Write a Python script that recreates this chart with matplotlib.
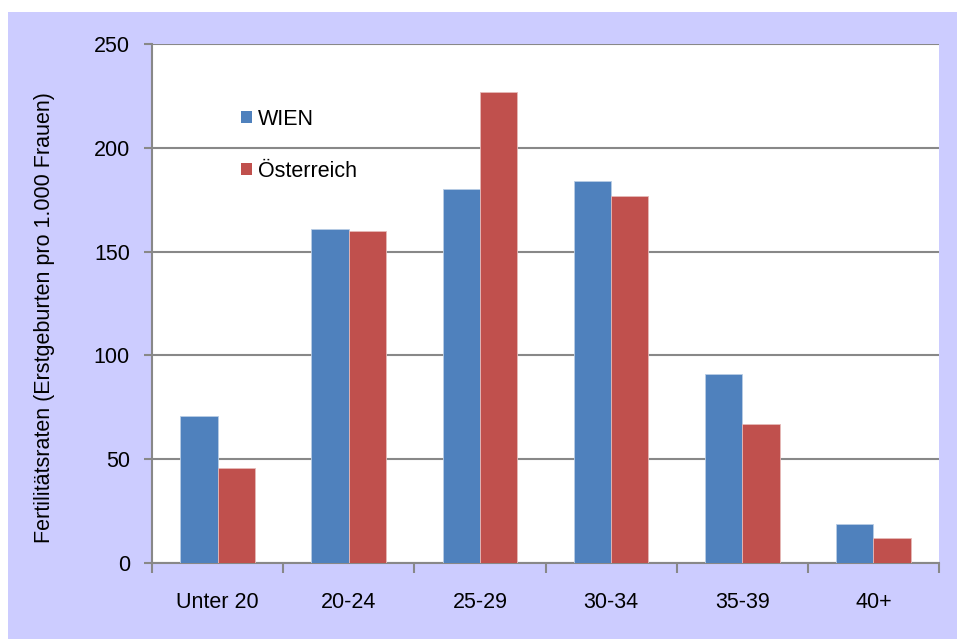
import matplotlib.pyplot as plt
from matplotlib.patches import Rectangle, Patch
import numpy as np

plt.rcParams['font.family'] = ['Liberation Sans', 'DejaVu Sans']

categories = ['Unter 20', '20-24', '25-29', '30-34', '35-39', '40+']
wien = [71, 161, 180, 184, 91, 19]
oesterreich = [46, 160, 227, 177, 67, 12]

blue = '#4f81bd'
red = '#c0504d'
grid_col = '#888888'

fig = plt.figure(figsize=(9.57, 6.39), dpi=100)
fig.patch.set_facecolor('white')
# lavender chart area frame
fig.patches.append(Rectangle((8 / 957, 0), 1 - 8 / 957, 1 - 12 / 639,
                             transform=fig.transFigure, facecolor='#ccccff',
                             edgecolor='none', zorder=-10))

ax = fig.add_axes([152 / 957, 1 - 563 / 639, (939 - 152) / 957, (563 - 44) / 639])
ax.set_facecolor('white')

x = np.arange(len(categories))
w = 0.285
ax.bar(x - w / 2, wien, w, color=blue, edgecolor='#b9cde5', linewidth=0.6, zorder=3)
ax.bar(x + w / 2, oesterreich, w, color=red, edgecolor='#e6b9b8', linewidth=0.6, zorder=3)

ax.set_xlim(-0.5, len(categories) - 0.5)
ax.set_ylim(0, 250)
ax.set_yticks(np.arange(0, 251, 50))
ax.yaxis.grid(True, color=grid_col, linewidth=1.5)
ax.set_axisbelow(True)

ax.set_xticks(x)
ax.set_xticklabels(categories, fontsize=15.5)
ax.tick_params(axis='x', which='major', length=0, pad=21)
ax.set_xticks(np.arange(-0.5, len(categories), 1), minor=True)
ax.tick_params(axis='x', which='minor', length=7, width=1.5, color=grid_col)
ax.tick_params(axis='y', length=6, width=1.5, color=grid_col, labelsize=15.5, pad=10)

for side in ['top', 'right']:
    ax.spines[side].set_visible(False)
for side in ['left', 'bottom']:
    ax.spines[side].set_color(grid_col)
    ax.spines[side].set_linewidth(1.5)

fig.text(45 / 957, 1 - 318 / 639, 'Fertilitätsraten (Erstgeburten pro 1.000 Frauen)',
         rotation=90, ha='center', va='center', fontsize=15.5)

handles = [Patch(facecolor=blue, label='WIEN'), Patch(facecolor=red, label='Österreich')]
ax.legend(handles=handles, loc='upper left', bbox_to_anchor=(230 / 957, 1 - 98 / 639),
          bbox_transform=fig.transFigure, frameon=False, fontsize=15.5,
          handlelength=0.5, handleheight=0.5, handletextpad=0.28, labelspacing=1.45,
          borderpad=0)

fig.savefig('out.png', dpi=100)
